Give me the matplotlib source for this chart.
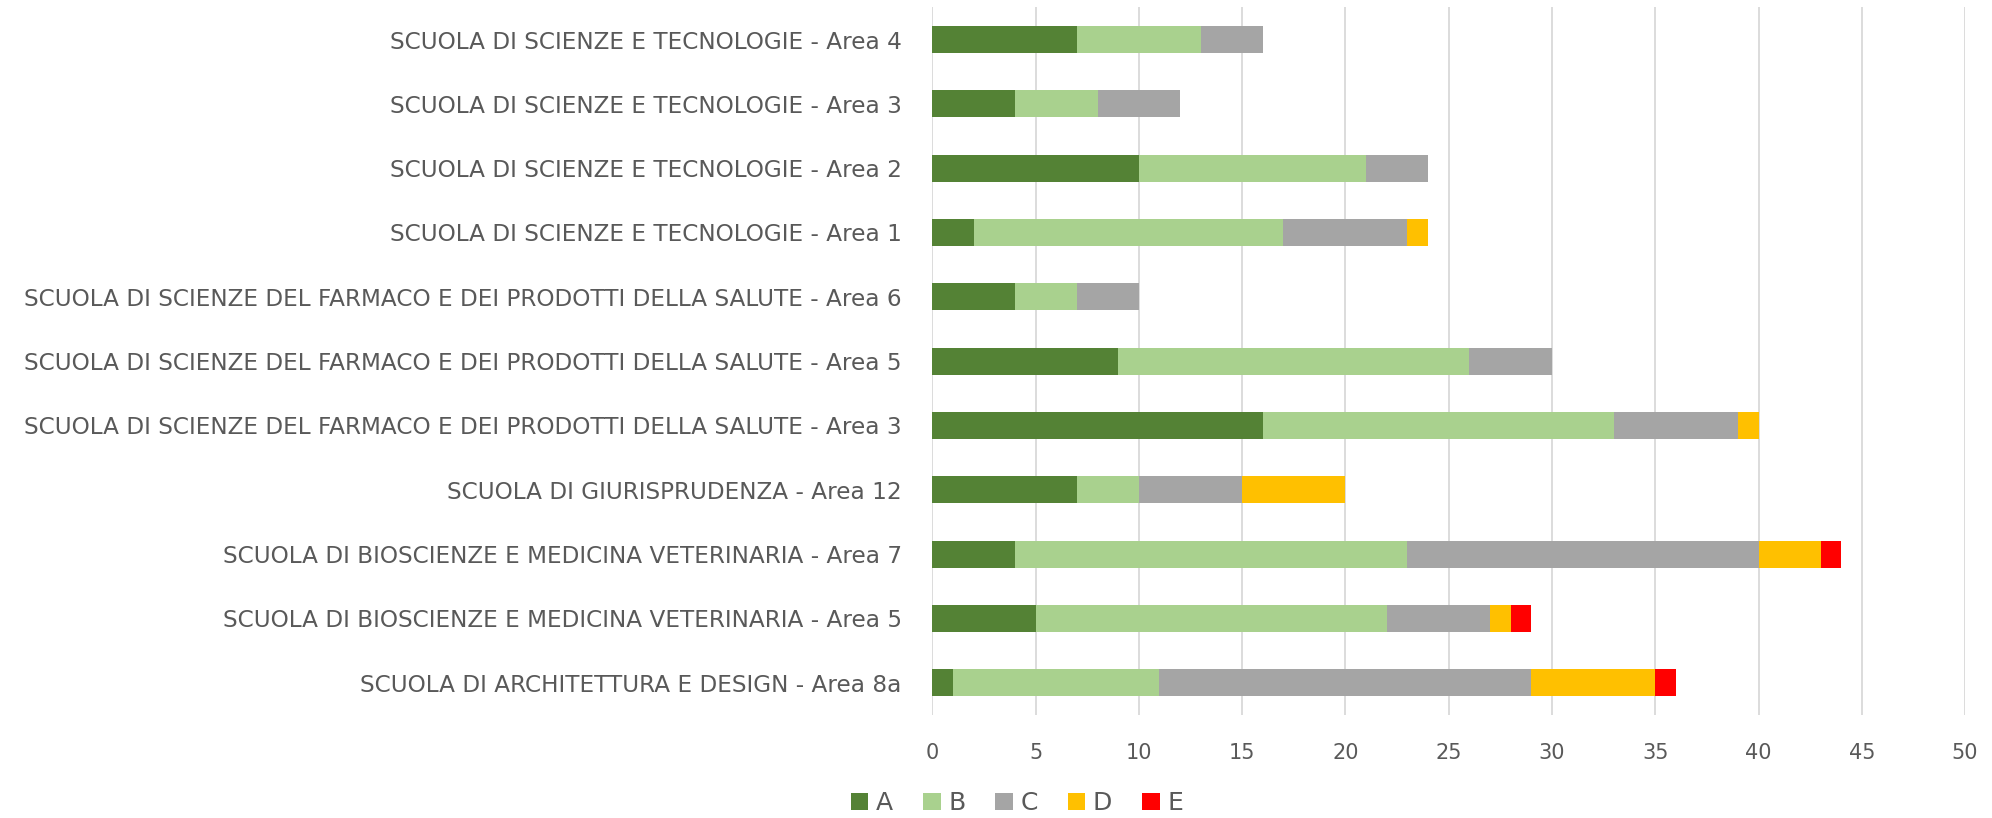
import matplotlib
matplotlib.use("Agg")
import matplotlib.pyplot as plt
import numpy as np

plt.rcParams['font.family'] = ['Liberation Sans Narrow', 'DejaVu Sans']

# categories, listed bottom to top as in the chart
categories = [
    "SCUOLA DI ARCHITETTURA E DESIGN - Area 8a",
    "SCUOLA DI BIOSCIENZE E MEDICINA VETERINARIA - Area 5",
    "SCUOLA DI BIOSCIENZE E MEDICINA VETERINARIA - Area 7",
    "SCUOLA DI GIURISPRUDENZA - Area 12",
    "SCUOLA DI SCIENZE DEL FARMACO E DEI PRODOTTI DELLA SALUTE - Area 3",
    "SCUOLA DI SCIENZE DEL FARMACO E DEI PRODOTTI DELLA SALUTE - Area 5",
    "SCUOLA DI SCIENZE DEL FARMACO E DEI PRODOTTI DELLA SALUTE - Area 6",
    "SCUOLA DI SCIENZE E TECNOLOGIE - Area 1",
    "SCUOLA DI SCIENZE E TECNOLOGIE - Area 2",
    "SCUOLA DI SCIENZE E TECNOLOGIE - Area 3",
    "SCUOLA DI SCIENZE E TECNOLOGIE - Area 4",
]
series_names = ["A", "B", "C", "D", "E"]
val_a = [1, 5, 4, 7, 16, 9, 4, 2, 10, 4, 7]
val_b = [10, 17, 19, 3, 17, 17, 3, 15, 11, 4, 6]
val_c = [18, 5, 17, 5, 6, 4, 3, 6, 3, 4, 3]
val_d = [6, 1, 3, 5, 1, 0, 0, 1, 0, 0, 0]
val_e = [1, 1, 1, 0, 0, 0, 0, 0, 0, 0, 0]
colors = ["#548235", "#A9D18E", "#A5A5A5", "#FFC000", "#FF0000"]
x_ticks = [0, 5, 10, 15, 20, 25, 30, 35, 40, 45, 50]

fig = plt.figure(figsize=(19.92, 8.18), dpi=100)
ax = fig.add_axes([0.468, 0.126, 0.5185, 0.865])

y = np.arange(len(categories))
left = np.zeros(len(categories))
for name, vals, col in zip(series_names, [val_a, val_b, val_c, val_d, val_e], colors):
    ax.barh(y, vals, left=left, height=0.42, color=col, label=name, zorder=3)
    left += np.array(vals)

ax.set_xlim(0, 50)
ax.set_ylim(-0.5, len(categories) - 0.5)
ax.set_xticks(x_ticks)
ax.set_yticks(y)
ax.set_yticklabels(categories)
ax.tick_params(axis='y', length=0, pad=22, labelsize=16.7, labelcolor="#595959")
ax.tick_params(axis='x', length=0, pad=20, labelsize=15, labelcolor="#595959")
ax.grid(axis='x', color="#D9D9D9", linewidth=1.3, zorder=0)
for s in ax.spines.values():
    s.set_visible(False)

fig.legend(loc="center", bbox_to_anchor=(0.5105, 0.018), ncol=5, frameon=False,
           fontsize=18, handlelength=0.7, handleheight=0.7, handletextpad=0.3,
           columnspacing=1.2, labelcolor="#595959")

fig.savefig("out.png", dpi=100)
